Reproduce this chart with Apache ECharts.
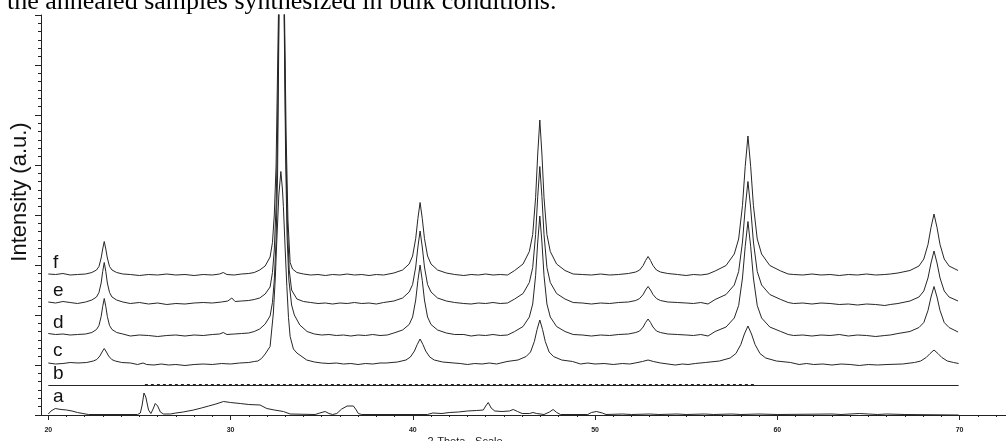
<!DOCTYPE html>
<html>
<head>
<meta charset="utf-8">
<script src="https://cdn.jsdelivr.net/npm/echarts@6.0.0/dist/echarts.min.js"></script>
<style>
html,body{margin:0;padding:0;background:#fff;}
#chart{width:1006px;height:441px;}
</style>
</head>
<body>
<div id="chart"></div>
<script>
// ---- data (2-theta in degrees, intensity in arbitrary stacked units) ----
const seriesNames = ['a', 'b', 'c', 'd', 'e', 'f'];
const xTickValues = [20, 30, 40, 50, 60, 70];
const captionText = 'the annealed samples synthesized in bulk conditions.';
const yAxisTitle = 'Intensity (a.u.)';
const xAxisTitle = '2-Theta - Scale';

const patternF = [
[20.0,282],[20.4,281],[20.8,283],[21.2,280],[21.6,281],
[22.05,282],[22.39,285],[22.645,290],[22.78,297],[22.9,314],[22.985,332],[23.07,347],[23.155,332],[23.24,314],[23.36,297],[23.495,290],[23.75,285],[24.09,282],
[24.5,281],[25.0,279],[25.5,281],[26.0,280],[26.5,282],[27.0,280],[27.5,281],[28.0,279],[28.5,281],[29.0,280],[29.4,282],[29.6,285],[29.8,281],[30.2,280],[30.6,282],[31.0,283],[31.3,285],
[31.6,290],[31.9,298],[32.17,316],[32.3,345],[32.4,400],[32.5,500],[32.55,620],[32.63,806],[32.72,1200],[32.8,1500],[32.88,1200],[32.96,806],[33.05,560],[33.15,390],[33.27,305],[33.4,292],[33.64,285],[34.0,282],
[34.4,280],[34.8,281],[35.2,279],[35.6,281],[36.0,280],[36.4,282],[36.8,280],[37.2,281],[37.6,279],[38.0,281],[38.4,280],
[38.96,284],[39.44,290],[39.8,302],[39.99,318],[40.16,353],[40.28,393],[40.4,425],[40.52,393],[40.64,353],[40.81,318],[41.0,302],[41.36,290],[41.84,284],
[42.3,281],[42.8,279],[43.2,281],[43.6,280],[44.0,282],[44.4,280],[44.8,281],[45.2,280],
[45.59,289],[46.05,302],[46.395,327],[46.58,361],[46.74,435],[46.855,522],[46.97,590],[47.085,522],[47.2,435],[47.36,361],[47.545,327],[47.89,302],[48.35,289],
[48.8,282],[49.3,281],[49.8,280],[50.3,282],[50.8,280],
[51.29,281],[51.83,283],[52.235,286],[52.45,290],[52.64,299],[52.775,309],[52.91,317],[53.045,309],[53.18,299],[53.37,290],[53.585,286],[53.99,283],[54.53,281],
[55.0,279],[55.4,281],[55.8,280],[56.2,282],
[56.59,288],[57.19,299],[57.64,322],[57.88,352],[58.09,419],[58.24,497],[58.39,558],[58.54,497],[58.69,419],[58.9,352],[59.14,322],[59.59,299],[60.19,288],
[60.6,282],[60.9,281],[61.4,280],[61.9,282],[62.4,280],[62.9,281],[63.4,279],[63.9,281],[64.4,280],[64.9,282],[65.4,280],[65.9,281],[66.2,282],
[66.62,284],[67.28,289],[67.775,298],[68.04,312],[68.27,341],[68.435,375],[68.6,402],[68.765,375],[68.93,341],[69.16,312],[69.425,298],[69.92,289]
];

const patternE = [
[20.0,226],[20.4,224],[20.8,227],[21.2,225],[21.6,223],
[22.05,226],[22.39,230],[22.645,236],[22.78,245],[22.9,264],[22.985,287],[23.07,305],[23.155,287],[23.24,264],[23.36,245],[23.495,236],[23.75,230],[24.09,226],
[24.5,223],[25.0,225],[25.5,222],[26.0,224],[26.5,221],[27.0,223],[27.5,222],[28.0,224],[28.5,225],[29.0,224],[29.5,226],[29.85,228],[30.07,234],[30.25,227],[30.6,228],[31.0,229],[31.3,231],
[31.6,234],[31.9,242],[32.17,256],[32.3,285],[32.4,330],[32.5,420],[32.57,540],[32.65,800],[32.72,1100],[32.8,1400],[32.88,1100],[32.95,800],[33.03,540],[33.12,380],[33.22,290],[33.35,250],[33.64,232],[34.0,227],
[34.4,225],[34.8,223],[35.2,224],[35.6,222],[36.0,224],[36.4,223],[36.8,225],[37.2,223],[37.6,224],[38.0,222],[38.4,225],
[38.96,228],[39.44,234],[39.8,246],[39.99,261],[40.16,296],[40.28,336],[40.4,368],[40.52,336],[40.64,296],[40.81,261],[41.0,246],[41.36,234],[41.84,228],
[42.3,225],[42.8,223],[43.2,222],[43.6,224],[44.0,223],[44.4,225],[44.8,223],[45.2,224],
[45.59,232],[46.05,243],[46.395,265],[46.58,295],[46.74,361],[46.855,437],[46.97,497],[47.085,437],[47.2,361],[47.36,295],[47.545,265],[47.89,243],[48.35,232],
[48.8,225],[49.3,224],[49.8,222],[50.3,224],[50.8,223],
[51.29,225],[51.83,226],[52.235,229],[52.45,233],[52.64,241],[52.775,250],[52.91,257],[53.045,250],[53.18,241],[53.37,233],[53.585,229],[53.99,226],[54.53,225],
[55.0,224],[55.4,223],[55.8,225],[56.2,222],
[56.59,231],[57.19,241],[57.64,260],[57.88,287],[58.09,346],[58.24,414],[58.39,467],[58.54,414],[58.69,346],[58.9,287],[59.14,260],[59.59,241],[60.19,231],
[60.6,225],[60.9,223],[61.4,224],[61.9,222],[62.4,224],[62.9,223],[63.4,221],[63.9,222],[64.4,220],[64.9,222],[65.4,221],[65.9,219],[66.2,221],
[66.62,223],[67.28,228],[67.775,236],[68.04,248],[68.27,274],[68.435,304],[68.6,328],[68.765,304],[68.93,274],[69.16,248],[69.425,236],[69.92,228]
];

const patternD = [
[20.0,163],[20.4,161],[20.8,162],[21.2,160],[21.6,161],
[22.05,162],[22.39,165],[22.645,171],[22.78,179],[22.9,197],[22.985,217],[23.07,233],[23.155,217],[23.24,197],[23.36,179],[23.495,171],[23.75,165],[24.09,162],
[24.5,158],[25.0,160],[25.5,159],[26.0,157],[26.5,159],[27.0,160],[27.5,158],[28.0,160],[28.5,159],[29.0,161],[29.4,162],[29.6,165],[29.8,161],[30.2,162],[30.6,163],[31.0,164],[31.3,167],
[31.6,172],[31.9,182],[32.17,198],[32.3,225],[32.4,270],[32.5,350],[32.58,480],[32.66,800],[32.73,1050],[32.8,1250],[32.87,1050],[32.94,800],[33.02,520],[33.1,360],[33.2,270],[33.35,220],[33.5,200],[33.8,180],[34.2,167],
[34.6,162],[35.0,160],[35.4,161],[35.8,159],[36.2,160],[36.6,158],[37.0,160],[37.4,159],[37.8,161],[38.2,159],[38.6,160],
[38.96,164],[39.44,170],[39.8,181],[39.99,196],[40.16,230],[40.28,269],[40.4,300],[40.52,269],[40.64,230],[40.81,196],[41.0,181],[41.36,170],[41.84,164],
[42.3,161],[42.8,161],[43.2,158],[43.6,160],[44.0,159],[44.4,161],[44.8,159],[45.2,160],
[45.59,167],[46.05,177],[46.395,196],[46.58,222],[46.74,279],[46.855,346],[46.97,398],[47.085,346],[47.2,279],[47.36,222],[47.545,196],[47.89,177],[48.35,167],
[48.8,161],[49.3,160],[49.8,158],[50.3,160],[50.8,159],
[51.29,161],[51.83,162],[52.235,165],[52.45,168],[52.64,176],[52.775,185],[52.91,192],[53.045,185],[53.18,176],[53.37,168],[53.585,165],[53.99,162],[54.53,161],
[55.0,160],[55.4,159],[55.8,161],[56.2,158],
[56.59,167],[57.19,176],[57.64,194],[57.88,219],[58.09,274],[58.24,337],[58.39,387],[58.54,337],[58.69,274],[58.9,219],[59.14,194],[59.59,176],[60.19,167],
[60.6,161],[60.9,159],[61.4,160],[61.9,158],[62.4,160],[62.9,159],[63.4,161],[63.9,158],[64.4,160],[64.9,159],[65.4,157],[65.9,159],[66.2,160],
[66.62,163],[67.28,167],[67.775,175],[68.04,185],[68.27,209],[68.435,236],[68.6,257],[68.765,236],[68.93,209],[69.16,185],[69.425,175],[69.92,166]
];

const patternC = [
[20.0,104],[20.4,102],[20.8,103],[21.2,105],
[21.63,104],[22.11,105],[22.47,108],[22.66,111],[22.83,118],[22.95,126],[23.07,133],[23.19,126],[23.31,118],[23.48,111],[23.67,108],[24.03,105],[24.51,104],
[24.9,101],[25.2,104],[25.4,101],[25.8,100],[26.2,102],[26.6,100],[27.0,101],[27.5,99],[28.0,101],[28.5,102],[29.0,101],[29.5,103],[30.0,102],[30.5,104],[31.0,105],[31.3,107],
[31.5,108],[31.7,113],[31.9,122],[32.17,137],[32.35,204],[32.45,270],[32.54,350],[32.65,440],[32.76,487],[32.85,450],[32.9,417],[33.0,330],[33.09,257],[33.18,195],[33.27,157],[33.45,132],[33.64,124],[34.18,110],
[34.6,106],[35.0,104],[35.4,103],[35.8,104],[36.2,102],[36.6,103],[37.0,101],[37.4,103],[37.8,102],[38.2,104],
[38.54,104],[39.16,106],[39.625,110],[39.87,116],[40.09,128],[40.245,141],[40.4,152],[40.555,141],[40.71,128],[40.93,116],[41.175,110],[41.64,106],[42.26,104],
[42.6,103],[43.0,101],[43.4,103],[43.8,102],[44.2,104],[44.6,102],
[45.17,107],[45.77,110],[46.22,117],[46.46,126],[46.67,147],[46.82,171],[46.97,190],[47.12,171],[47.27,147],[47.48,126],[47.72,117],[48.17,110],[48.77,107],
[49.2,102],[49.6,104],[50.0,102],[50.5,103],[51.0,101],[51.5,103],[51.9,102],
[52.2,104],[52.6,107],[52.91,110],[53.2,107],[53.6,104],
[54.0,102],[54.4,100],[54.8,102],[55.1,101],[55.5,103],
[56.05,105],[56.83,108],[57.415,114],[57.73,123],[58.0,141],[58.195,162],[58.39,178],[58.585,162],[58.78,141],[59.05,123],[59.365,114],[59.95,108],[60.73,105],
[61.2,101],[61.6,103],[62.0,101],[62.5,102],[63.0,100],[63.5,102],[64.0,101],[64.5,99],[65.0,101],[65.5,100],
[66.02,101],[66.88,102],[67.525,105],[67.87,108],[68.17,115],[68.385,123],[68.6,130],[68.815,123],[69.03,115],[69.33,108],[69.675,105],[69.95,103]
];

const patternB = [[20.0,59],[69.95,59]];
const patternBNoise = [[25.3,61],[58.8,61]];

const patternA = [
[20.0,2],[20.15,8],[20.38,13],[20.7,11],[21.0,10],[21.3,8],[21.6,5],[21.9,3],[22.2,1],
[24.9,1],[25.05,4],[25.15,20],[25.25,44],[25.35,36],[25.5,10],[25.63,3],[25.75,12],[25.87,23],[26.0,18],[26.15,6],[26.32,2],
[26.7,2],[27.0,4],[27.4,6],[27.97,10],[28.4,14],[28.8,18],[29.2,22],[29.61,27],[30.0,25],[30.53,23],[31.0,21],[31.62,20],[31.99,13],[32.4,10],[32.9,7],[33.27,2],
[34.64,1],[34.9,4],[35.19,7],[35.4,3],[35.6,1],[35.83,3],[36.1,12],[36.4,18],[36.74,18],[36.9,10],[37.01,3],[37.2,1],
[40.8,1],[41.1,4],[41.6,3],[42.0,5],[42.5,6],[43.0,8],[43.5,9],[43.87,10],[44.0,18],[44.14,25],[44.3,14],[44.5,8],[44.9,7],[45.3,8],[45.51,11],[45.75,7],[46.0,3],
[46.4,3],[46.6,5],[46.8,3],[47.2,1],[47.5,6],[47.7,11],[47.9,5],[48.1,1],[49.6,1],[49.8,5],[50.08,7],[50.4,4],[50.6,1],
[51.5,2],[52.0,1],[53.0,2],[53.5,1],[54.5,2],[55.0,1],[56.0,2],[56.5,1],[57.5,2],[58.0,1],[59.0,2],[60.0,1],[63.0,2],[63.5,1],[64.5,3],[65.0,2],[65.5,1],[66.0,2],[67.0,1],[69.95,0]
];

// ---- chart ----
const lineColor = '#262626';
const minorTickValues = [];
for (let v = 20; v <= 72; v++) minorTickValues.push(v);

function lineSeries(name, data, extra) {
  return Object.assign({
    name: name,
    type: 'line',
    data: data,
    symbol: 'none',
    xAxisIndex: 0,
    lineStyle: { color: lineColor, width: 1 },
    silent: true,
    animation: false
  }, extra || {});
}

const labelY = { f: 263, e: 291, d: 323, c: 351, b: 374, a: 397 };
const graphics = [
  { type: 'text', left: 7, top: -11, style: { text: captionText, font: '26px "Liberation Serif", "Times New Roman", serif', fill: '#000' } },
  { type: 'text', x: 20, y: 192, rotation: Math.PI / 2, style: { text: yAxisTitle, font: '22px "Liberation Sans", Arial, sans-serif', fill: '#111', align: 'center', verticalAlign: 'middle' } },
  { type: 'text', x: 465, y: 436, style: { text: xAxisTitle, font: '11px "Liberation Sans", Arial, sans-serif', fill: '#222', align: 'center', verticalAlign: 'top' } }
];
seriesNames.forEach(function (n) {
  graphics.push({ type: 'text', x: 53, y: labelY[n], style: { text: n, font: '19px "Liberation Sans", Arial, sans-serif', fill: '#111', align: 'left', verticalAlign: 'middle' } });
});

const chart = echarts.init(document.getElementById('chart'), null, { renderer: 'canvas' });
chart.setOption({
  animation: false,
  backgroundColor: '#ffffff',
  grid: { left: 37, right: 0, top: 15, bottom: 26, containLabel: false },
  xAxis: [
    {
      type: 'value', min: 19.38, max: 72.55,
      axisLine: { show: true, lineStyle: { color: '#222', width: 1 } },
      axisTick: { show: true, customValues: xTickValues, length: 5, lineStyle: { color: '#222' } },
      axisLabel: { show: true, customValues: xTickValues, fontSize: 7, fontWeight: 'bold', color: '#222', margin: 12, fontFamily: '"Liberation Sans", Arial, sans-serif' },
      splitLine: { show: false }
    },
    {
      type: 'value', min: 19.38, max: 72.55, position: 'bottom',
      axisLine: { show: false },
      axisTick: { show: true, customValues: minorTickValues, length: 2, lineStyle: { color: '#222' } },
      axisLabel: { show: false },
      splitLine: { show: false }
    }
  ],
  yAxis: {
    type: 'value', min: 0, max: 800, interval: 100, offset: -4,
    axisLine: { show: true, lineStyle: { color: '#222', width: 1 } },
    axisTick: { show: true, length: 6, lineStyle: { color: '#222' } },
    minorTick: { show: true, splitNumber: 6, length: 3, lineStyle: { color: '#222' } },
    axisLabel: { show: false },
    splitLine: { show: false },
    minorSplitLine: { show: false }
  },
  graphic: graphics,
  series: [
    lineSeries('a', patternA),
    lineSeries('b', patternB),
    lineSeries('b-noise', patternBNoise, { lineStyle: { color: lineColor, width: 1, type: [3, 3] } }),
    lineSeries('c', patternC),
    lineSeries('d', patternD),
    lineSeries('e', patternE),
    lineSeries('f', patternF)
  ]
});
</script>
</body>
</html>
